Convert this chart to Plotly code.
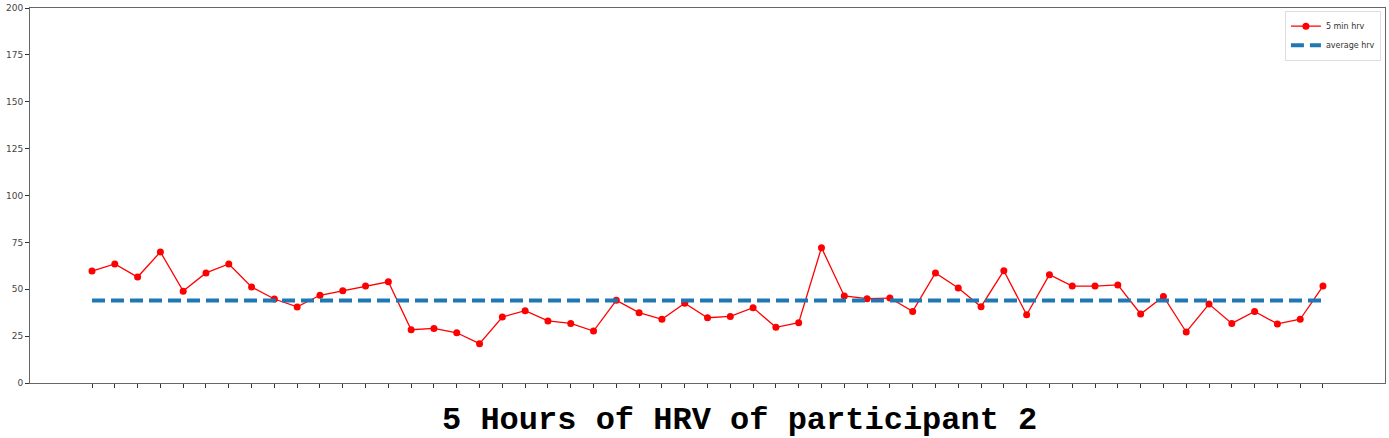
import plotly.graph_objects as go

hrv_5min = [59.7, 63.5, 56.5, 69.9, 49.0, 58.7, 63.5, 51.2, 44.8, 40.6,
            46.8, 49.2, 51.7, 54.0, 28.4, 29.1, 26.8, 21.0, 35.2, 38.6,
            33.1, 31.8, 27.7, 44.1, 37.5, 34.0, 42.5, 34.8, 35.5, 40.2,
            29.7, 32.2, 72.2, 46.4, 45.0, 45.3, 38.2, 58.7, 50.7, 40.7,
            59.9, 36.4, 57.8, 51.7, 51.7, 52.3, 36.8, 46.2, 27.2, 42.1,
            31.8, 38.2, 31.5, 34.0, 51.7]
avg_hrv = 44.0
idx = list(range(len(hrv_5min)))
y_ticks = [0, 25, 50, 75, 100, 125, 150, 175, 200]
title_text = "5 Hours of HRV of participant 2"

fig = go.Figure()
fig.add_trace(go.Scatter(
    x=idx, y=hrv_5min, mode="lines+markers", name="5 min hrv",
    line=dict(color="#ff0000", width=1.3),
    marker=dict(color="#ff0000", size=7),
))
fig.add_trace(go.Scatter(
    x=[idx[0], idx[-1]], y=[avg_hrv, avg_hrv], mode="lines", name="average hrv",
    line=dict(color="#1f77b4", width=4, dash="13px,6px"),
))

fig.update_layout(
    width=1389, height=438, autosize=False,
    margin=dict(l=30, r=4, t=8, b=55, autoexpand=False),
    plot_bgcolor="white", paper_bgcolor="white",
    font=dict(family="DejaVu Sans", size=9, color="#444"),
    showlegend=True,
    legend=dict(x=0.997, y=0.993, xanchor="right", yanchor="top",
                bordercolor="#ddd", borderwidth=1, bgcolor="white",
                font=dict(size=8, color="#333"), tracegroupgap=0,
                itemwidth=30),
    xaxis=dict(range=[-2.72, len(hrv_5min) - 1 + 2.72], tickmode="array",
               tickvals=idx, ticktext=[""] * len(idx), ticks="outside",
               ticklen=4, tickcolor="#333", showgrid=False, zeroline=False,
               showline=True, linecolor="#666", linewidth=1, mirror=True,
               automargin=False),
    yaxis=dict(range=[0, 200], tickvals=y_ticks, ticks="outside", ticklen=4,
               tickcolor="#333", showgrid=False, zeroline=False,
               showline=True, linecolor="#666", linewidth=1, mirror=True,
               automargin=False),
    annotations=[dict(text="<b>" + title_text + "</b>", xref="paper", yref="paper",
                      x=0.5235, y=-0.1, xanchor="center", yanchor="middle",
                      showarrow=False,
                      font=dict(family="Liberation Mono, Courier New, monospace",
                                size=32, color="#000"))],
)

fig.write_html("out.html", config={"displayModeBar": False},
               post_script="document.body.style.margin='0';document.body.style.overflow='hidden';")
